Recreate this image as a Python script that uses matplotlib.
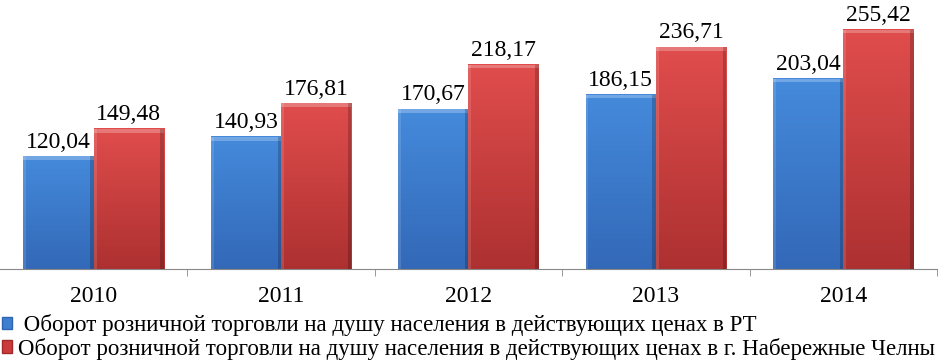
import numpy as np
import matplotlib.pyplot as plt
from matplotlib.patches import Patch

years = ['2010', '2011', '2012', '2013', '2014']
rt_values = [120.04, 140.93, 170.67, 186.15, 203.04]
chelny_values = [149.48, 176.81, 218.17, 236.71, 255.42]
labels = [' Оборот розничной торговли на душу населения в действующих ценах в РТ',
          'Оборот розничной торговли на душу населения в действующих ценах в г. Набережные Челны']

plt.rcParams['font.family'] = ['Liberation Serif', 'DejaVu Serif']

fig = plt.figure(figsize=(9.45, 3.61), dpi=100)
ax = fig.add_axes([0, (361 - 269) / 361, 937 / 945, 269 / 361])

x = np.arange(len(years))
w = 0.375


def gradient_bars(bars, top_col, bot_col):
    for b in bars:
        x0, y0, bw, bh = b.get_x(), b.get_y(), b.get_width(), b.get_height()
        t = np.linspace(0, 1, 64)[:, None]
        img = (1 - t)[..., None] * np.array(bot_col) + t[..., None] * np.array(top_col)
        img = np.repeat(img, 2, axis=1)
        ax.imshow(img, extent=[x0, x0 + bw, y0, y0 + bh], origin='lower',
                  aspect='auto', zorder=2)
        # bevel: light top and left, dark right
        ax.fill_between([x0, x0 + bw], y0 + bh - 4, y0 + bh, color='white',
                        alpha=0.25, lw=0, zorder=3)
        ax.fill_between([x0, x0 + bw * 0.04], y0, y0 + bh, color='white',
                        alpha=0.12, lw=0, zorder=3)
        ax.fill_between([x0 + bw * 0.95, x0 + bw], y0, y0 + bh, color='black',
                        alpha=0.2, lw=0, zorder=3)


b1 = ax.bar(x - w / 2, rt_values, w, color='none', zorder=4)
b2 = ax.bar(x + w / 2, chelny_values, w, color='none', zorder=4)
gradient_bars(b1, (0.27, 0.54, 0.86), (0.20, 0.41, 0.72))
gradient_bars(b2, (0.88, 0.30, 0.30), (0.68, 0.19, 0.19))

for xi, v in zip(x, rt_values):
    ax.text(xi - w / 2, v + 4, f'{v:.2f}'.replace('.', ','), ha='center',
            va='bottom', fontsize=17)
for xi, v in zip(x, chelny_values):
    ax.text(xi + w / 2, v + 4, f'{v:.2f}'.replace('.', ','), ha='center',
            va='bottom', fontsize=17)

ax.set_xlim(-0.5, 4.5)
ax.set_ylim(0, 287)
ax.set_xticks(x)
ax.set_xticklabels(years, fontsize=17)
ax.set_xticks(x + 0.5, minor=True)
ax.tick_params(axis='x', which='major', length=0, pad=12)
ax.tick_params(axis='x', which='minor', length=5, color='#888888')
ax.set_yticks([])
for s in ['top', 'right', 'left']:
    ax.spines[s].set_visible(False)
ax.spines['bottom'].set_color('#888888')

handles = [Patch(facecolor='#3f7fd0', edgecolor='#2f64b0'),
           Patch(facecolor='#cc3b3b', edgecolor='#a02a2a')]
fig.legend(handles, labels, loc='lower left', bbox_to_anchor=(0.002, 0.004),
           frameon=False, fontsize=16.5, handlelength=0.45, handleheight=0.45,
           handletextpad=0.25, labelspacing=0.05, borderaxespad=0, borderpad=0)

fig.savefig('out.png', dpi=100)
